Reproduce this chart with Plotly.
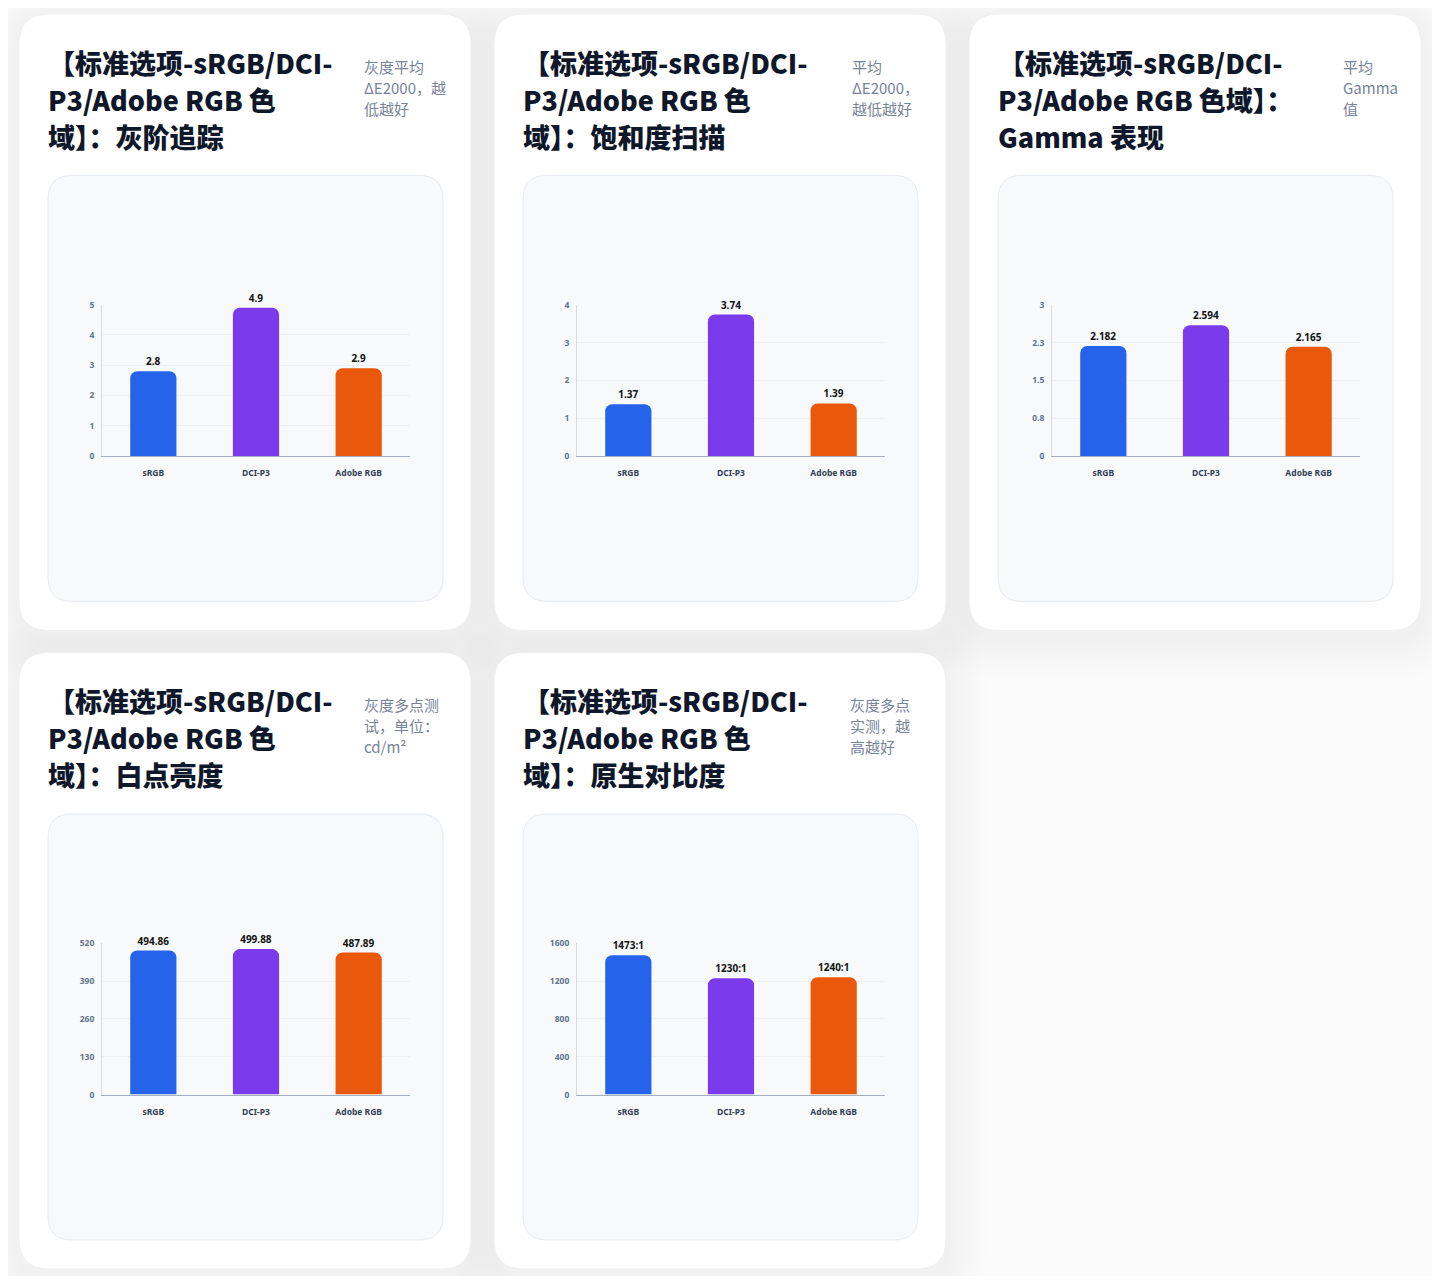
"""Display colour-gamut test dashboard: five bar-chart cards (sRGB / DCI-P3 / Adobe RGB)."""
import plotly.graph_objects as go

# page is 1440x1284; the html body keeps an 8px margin round the figure
PAGE_MARGIN = 8
W, H = 1440 - 2 * PAGE_MARGIN, 1284 - 2 * PAGE_MARGIN
# vertical span that paper coords actually cover on screen (measured)
Y_TOP, Y_SPAN = 15, 1254

categories = ["sRGB", "DCI-P3", "Adobe RGB"]
bar_colors = ["#2563eb", "#7c3aed", "#ea580c"]

grayscale_de = [2.8, 4.9, 2.9]
saturation_de = [1.37, 3.74, 1.39]
gamma_values = [2.182, 2.594, 2.165]
white_luminance = [494.86, 499.88, 487.89]
contrast_ratio = [1473, 1230, 1240]

titles = [
    ["【标准选项-sRGB/DCI-", "P3/Adobe RGB 色", "域】：灰阶追踪"],
    ["【标准选项-sRGB/DCI-", "P3/Adobe RGB 色", "域】：饱和度扫描"],
    ["【标准选项-sRGB/DCI-", "P3/Adobe RGB 色域】：", "Gamma 表现"],
    ["【标准选项-sRGB/DCI-", "P3/Adobe RGB 色", "域】：白点亮度"],
    ["【标准选项-sRGB/DCI-", "P3/Adobe RGB 色", "域】：原生对比度"],
]
notes = [
    ["灰度平均", "ΔE2000，越", "低越好"],
    ["平均", "ΔE2000，", "越低越好"],
    ["平均", "Gamma", "值"],
    ["灰度多点测", "试，单位：", "cd/m²"],
    ["灰度多点", "实测，越", "高越好"],
]

y_tickvals = [
    [0, 1, 2, 3, 4, 5],
    [0, 1, 2, 3, 4],
    [0, 0.75, 1.5, 2.25, 3],
    [0, 130, 260, 390, 520],
    [0, 400, 800, 1200, 1600],
]
y_ticktext = [
    ["0", "1", "2", "3", "4", "5"],
    ["0", "1", "2", "3", "4"],
    ["0", "0.8", "1.5", "2.3", "3"],
    ["0", "130", "260", "390", "520"],
    ["0", "400", "800", "1200", "1600"],
]

series = [grayscale_de, saturation_de, gamma_values, white_luminance, contrast_ratio]
labels = [
    [str(v) for v in grayscale_de],
    [str(v) for v in saturation_de],
    [str(v) for v in gamma_values],
    [str(v) for v in white_luminance],
    [f"{v}:1" for v in contrast_ratio],
]

# card placement (screen pixels)
card_x = [19, 494, 969, 19, 494]
card_y = [15, 15, 15, 652, 652]
note_dx = [343, 356, 372, 343, 354]
CARD_W, CARD_H = 452, 615

TITLE_FONT = "Noto Sans CJK SC Black, Noto Sans CJK SC, sans-serif"


def px(x):
    return (x - PAGE_MARGIN) / W


def py(y):
    return 1 - (y - Y_TOP) / Y_SPAN


def rrect(x0, y0, x1, y1, r):
    """SVG path for a rounded rectangle in paper coords (input in screen pixels)."""
    X0, X1 = px(x0), px(x1)
    Y0, Y1 = py(y0), py(y1)
    rx, ry = r / W, r / Y_SPAN
    return (
        f"M{X0 + rx},{Y0} L{X1 - rx},{Y0} Q{X1},{Y0} {X1},{Y0 - ry} "
        f"L{X1},{Y1 + ry} Q{X1},{Y1} {X1 - rx},{Y1} "
        f"L{X0 + rx},{Y1} Q{X0},{Y1} {X0},{Y1 + ry} "
        f"L{X0},{Y0 - ry} Q{X0},{Y0} {X0 + rx},{Y0} Z"
    )


fig = go.Figure()
shapes = []
annotations = []

# soft shadows
for i in range(1, 11):
    e = 4 * i
    for cx, cy in zip(card_x, card_y):
        shapes.append(dict(
            type="path", xref="paper", yref="paper", layer="below",
            path=rrect(cx - e, cy - e + 8, cx + CARD_W + e, cy + CARD_H + e + 8, 30 + e),
            fillcolor="#6b7280", opacity=0.007, line=dict(width=0),
        ))

for k in range(5):
    cx, cy = card_x[k], card_y[k]
    # card
    shapes.append(dict(
        type="path", xref="paper", yref="paper", layer="below",
        path=rrect(cx, cy, cx + CARD_W, cy + CARD_H, 30),
        fillcolor="#ffffff", line=dict(color="#eef0f4", width=1),
    ))
    # inner panel with a light top-to-bottom fade
    p0x, p0y, p1x, p1y = cx + 29, cy + 161, cx + 424, cy + 586
    shapes.append(dict(
        type="path", xref="paper", yref="paper", layer="below",
        path=rrect(p0x, p0y, p1x, p1y, 24),
        fillcolor="#f7f9fb", line=dict(width=0),
    ))
    for b in range(30):
        shapes.append(dict(
            type="rect", xref="paper", yref="paper", layer="below",
            x0=px(p0x), x1=px(p1x), y0=py(p0y + 40 + 12 * b), y1=py(p1y),
            fillcolor="#ffffff", opacity=0.07, line=dict(width=0),
        ))
    shapes.append(dict(
        type="path", xref="paper", yref="paper", layer="below",
        path=rrect(p0x, p0y, p1x, p1y, 24),
        fillcolor="rgba(0,0,0,0)", line=dict(color="#e6eaf0", width=1),
    ))

    # title lines
    for j, line in enumerate(titles[k]):
        annotations.append(dict(
            xref="paper", yref="paper", x=px(cx + 27), y=py(cy + 48 + 37 * j),
            xanchor="left", yanchor="middle", showarrow=False, text=line,
            font=dict(family=TITLE_FONT, size=27, color="#0f172a", weight=900),
        ))
    # note lines
    for j, line in enumerate(notes[k]):
        annotations.append(dict(
            xref="paper", yref="paper", x=px(cx + note_dx[k]), y=py(cy + 52 + 21 * j),
            xanchor="left", yanchor="middle", showarrow=False, text=line,
            font=dict(family="Noto Sans CJK SC", size=15, color="#77839a"),
        ))

    # chart
    ax = "" if k == 0 else str(k + 1)
    fig.add_trace(go.Bar(
        x=categories, y=series[k], text=labels[k],
        textposition="outside", cliponaxis=False,
        textfont=dict(family="Noto Sans", size=10, color="#111111", weight=700),
        marker=dict(color=bar_colors, cornerradius=7, line=dict(width=0)),
        width=0.45, xaxis="x" + ax, yaxis="y" + ax,
        hoverinfo="x+y", showlegend=False,
    ))
    fig.layout["xaxis" + ax] = dict(
        domain=[px(cx + 83), px(cx + 391)], anchor="y" + ax,
        range=[-0.5, 2.5], showgrid=False, zeroline=False,
        showline=True, linecolor="#a3aec0", linewidth=1,
        ticks="", ticklabelstandoff=9,
        tickfont=dict(family="Noto Sans", size=8.5, color="#334155", weight=700),
    )
    fig.layout["yaxis" + ax] = dict(
        domain=[py(cy + 441), py(cy + 290)], anchor="x" + ax,
        range=[0, y_tickvals[k][-1]], tickvals=y_tickvals[k], ticktext=y_ticktext[k],
        showgrid=True, gridcolor="#edf0f5", gridwidth=1, zeroline=False,
        showline=True, linecolor="#d3dae4", linewidth=1,
        ticks="", ticklabelstandoff=5,
        tickfont=dict(family="Noto Sans", size=8.5, color="#64748b", weight=700),
    )

fig.update_layout(
    width=W, height=H,
    margin=dict(l=0, r=0, t=0, b=0),
    paper_bgcolor="#fbfbfc", plot_bgcolor="rgba(0,0,0,0)",
    shapes=shapes, annotations=annotations,
    showlegend=False, bargap=0.55,
)

fig.write_html("out.html")
